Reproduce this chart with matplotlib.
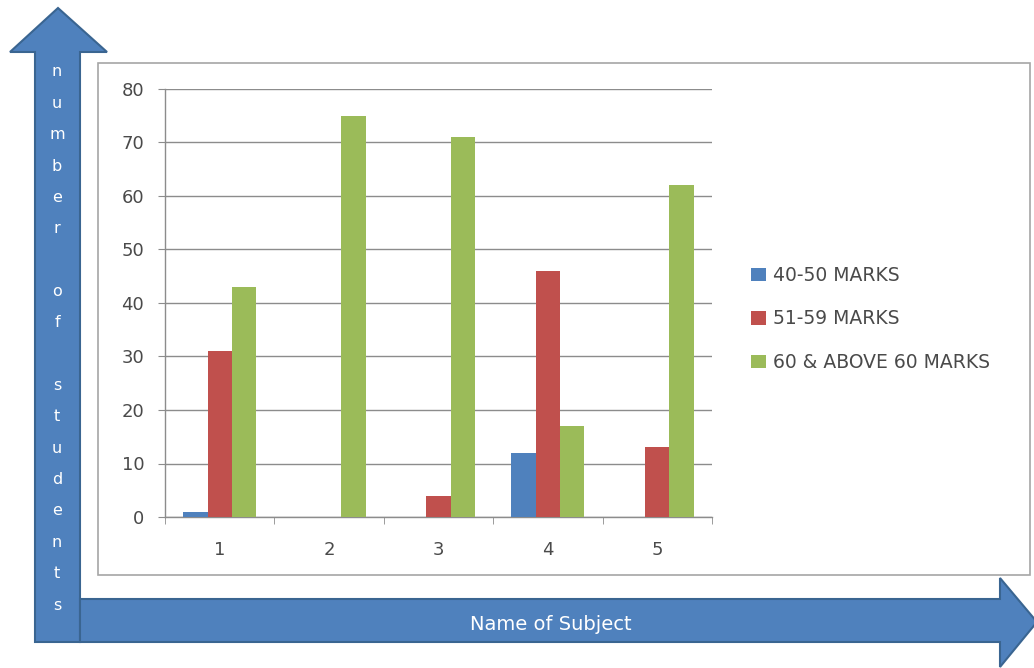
import numpy as np
import matplotlib
matplotlib.use("Agg")
import matplotlib.pyplot as plt
from matplotlib.patches import Polygon, Rectangle

subjects = [1, 2, 3, 4, 5]
marks_40_50 = [1, 0, 0, 12, 0]
marks_51_59 = [31, 0, 4, 46, 13]
marks_60_up = [43, 75, 71, 17, 62]
series_names = ["40-50 MARKS", "51-59 MARKS", "60 & ABOVE 60 MARKS"]
colors = ["#4F81BD", "#C0504D", "#9BBB59"]
y_label = "number of students"
x_label = "Name of Subject"

W, H = 1034, 668
plt.rcParams["font.family"] = ["DejaVu Sans"]

fig = plt.figure(figsize=(W / 100, H / 100), dpi=100)
fig.patch.set_facecolor("white")

# background layer in pixel coordinates (arrows + chart frame)
bg = fig.add_axes([0, 0, 1, 1], zorder=0)
bg.set_xlim(0, W)
bg.set_ylim(H, 0)
bg.axis("off")

arrow_fc = "#4F81BD"
arrow_ec = "#3A6591"

# chart frame
bg.add_patch(Rectangle((98, 63), 932, 512, fc="white", ec="#A6A6A6", lw=1.2, zorder=1))

# vertical arrow
v_pts = [(35, 642), (35, 52), (10, 52), (58, 8), (107, 52), (80, 52), (80, 642)]
bg.add_patch(Polygon(v_pts, closed=True, fc=arrow_fc, ec=arrow_ec, lw=1.5, zorder=2))

# horizontal arrow
h_pts = [(80, 599), (1000, 599), (1000, 578), (1037, 622), (1000, 667), (1000, 642), (80, 642)]
bg.add_patch(Polygon(h_pts, closed=True, fc=arrow_fc, ec=arrow_ec, lw=1.5, zorder=2))

# stacked letters in vertical arrow, one per line
letters = list(y_label)
ys = np.linspace(72, 605, len(letters))
for ch, yy in zip(letters, ys):
    if ch.strip():
        bg.text(57, yy, ch, color="white", fontsize=11.5, ha="center", va="center", zorder=3)

bg.text(551, 624, x_label, color="white", fontsize=14, ha="center", va="center", zorder=3)

# bar chart
left, right, top, bottom = 165, 712, 89, 517
ax = fig.add_axes([left / W, (H - bottom) / H, (right - left) / W, (bottom - top) / H], zorder=1)
ax.patch.set_alpha(0)

x = np.arange(1, len(subjects) + 1)
bw = 0.222
for i, (vals, name, c) in enumerate(zip([marks_40_50, marks_51_59, marks_60_up], series_names, colors)):
    ax.bar(x + (i - 1) * bw, vals, width=bw, color=c, label=name, zorder=3)

grid_c = "#8C8C8C"
txt_c = "#4A4A4A"
ax.set_xlim(0.5, len(subjects) + 0.5)
ax.set_ylim(0, 80)
ax.set_yticks(range(0, 81, 10))
ax.set_xticks(x)
ax.set_xticklabels([str(s) for s in subjects])
ax.set_xticks(np.arange(0.5, len(subjects) + 1, 1), minor=True)
ax.yaxis.grid(True, color=grid_c, lw=1)
ax.set_axisbelow(True)
for s in ["top", "right"]:
    ax.spines[s].set_visible(False)
for s in ["left", "bottom"]:
    ax.spines[s].set_color(grid_c)
    ax.spines[s].set_linewidth(1)
ax.tick_params(axis="y", length=5, color=grid_c, labelsize=13, labelcolor=txt_c, pad=10)
ax.tick_params(axis="x", which="major", length=0, labelsize=13, labelcolor=txt_c, pad=17)
ax.tick_params(axis="x", which="minor", length=5, color=grid_c)

ax.legend(loc="center left", bbox_to_anchor=(751 / W, (H - 319) / H),
          bbox_transform=fig.transFigure, frameon=False, fontsize=13.5,
          handlelength=0.8, handleheight=0.7, handletextpad=0.35,
          labelspacing=1.3, borderpad=0, borderaxespad=0, labelcolor=txt_c)

fig.savefig("out.png", dpi=100, facecolor="white")
